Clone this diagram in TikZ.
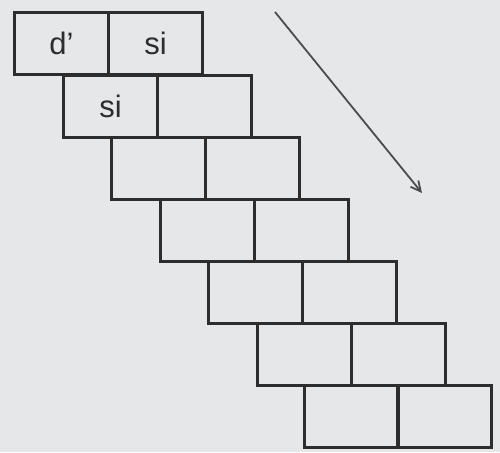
\documentclass[tikz,border=0pt]{standalone}
\usepackage{fontspec}
\setmainfont{Liberation Sans}
\usetikzlibrary{arrows.meta}
\definecolor{bgc}{RGB}{229,231,233}
\definecolor{inkc}{RGB}{45,45,45}
\begin{document}
\begin{tikzpicture}[x=1pt,y=-1pt,
  brick/.style={draw=inkc, line width=3pt, rectangle, anchor=north west,
    minimum width=94pt, minimum height=62pt, inner sep=0pt,
    font=\fontsize{31}{31}\selectfont, text=inkc},
  arr/.style={draw=inkc!85, line width=1.8pt, -{Straight Barb[length=10pt,width=10pt]}}]
\fill[bgc] (0,0) rectangle (500,452);
\useasboundingbox (0,0) rectangle (500,452);
% row 1
\node[brick] (a1) at (13,11) {d’};
\node[brick] (a2) at (107,11) {si};
% row 2
\node[brick] (b1) at (62,74) {si};
\node[brick] (b2) at (156,74) {};
% row 3
\node[brick] (c1) at (110,136) {};
\node[brick] (c2) at (204,136) {};
% row 4
\node[brick] (d1) at (159,198) {};
\node[brick] (d2) at (253,198) {};
% row 5
\node[brick] (e1) at (207,260) {};
\node[brick] (e2) at (301,260) {};
% row 6
\node[brick] (f1) at (256,322) {};
\node[brick] (f2) at (350,322) {};
% row 7
\node[brick] (g1) at (303,384) {};
\node[brick] (g2) at (396,384) {};
% arrow
\coordinate (s) at (275,12);
\coordinate (t) at (422,193);
\draw[arr] (s) -- (t);
\end{tikzpicture}
\end{document}
